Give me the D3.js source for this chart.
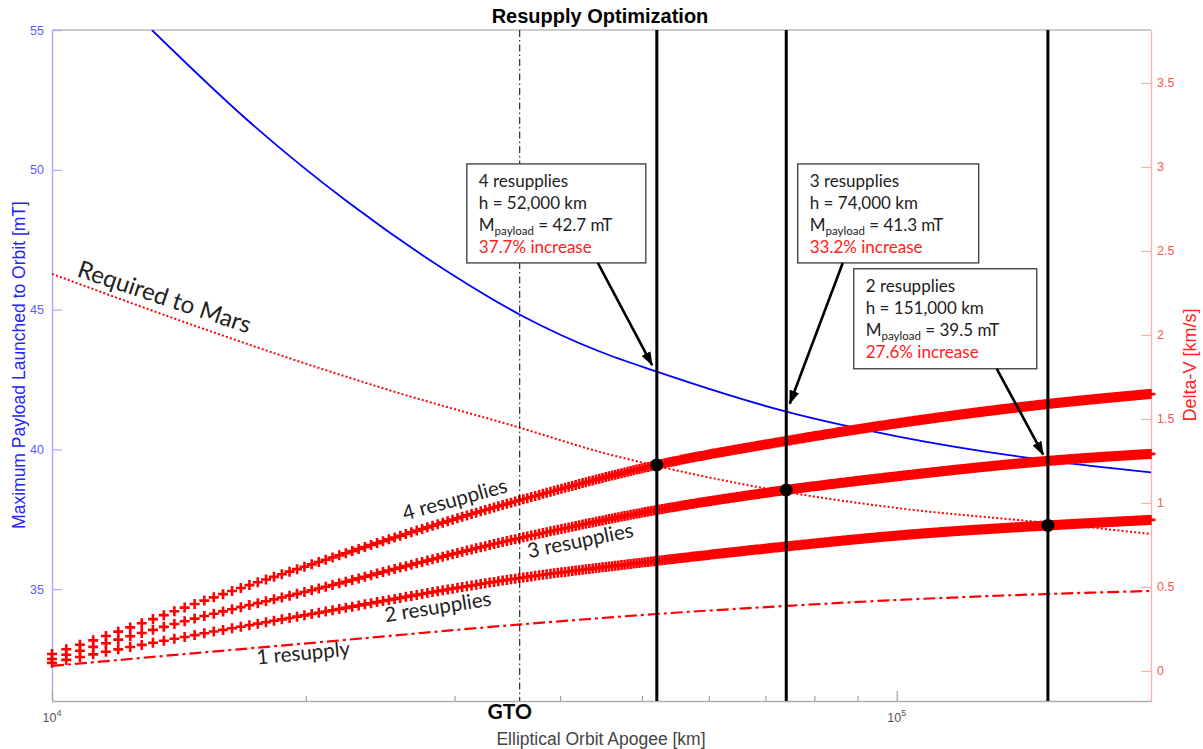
<!DOCTYPE html>
<html><head><meta charset="utf-8">
<script src="https://cdn.jsdelivr.net/npm/d3@7"></script>
<style>body{margin:0;background:#fff}svg{display:block}</style>
</head><body><svg id="c" width="1203" height="749"></svg>
<script>
// ---------- data ----------
const chartTitle = "Resupply Optimization";
const xLabel = "Elliptical Orbit Apogee [km]";
const yLeftLabel = "Maximum Payload Launched to Orbit [mT]";
const yRightLabel = "Delta-V [km/s]";

// Blue: maximum payload launched to orbit (mT) vs apogee (km)
const payloadApogee = [13130, 17150, 22500, 29600, 35900, 44500, 52000, 74000, 100800, 151000, 200000];
const payloadMass   = [55, 51.7, 48.8, 46.3, 44.8, 43.5, 42.78, 41.35, 40.45, 39.6, 39.18];

// Red dotted: delta-V required to Mars (km/s)
const marsApogee = [10000, 15000, 19700, 25700, 35900, 44500, 52000, 74000, 100000, 151000, 200000];
const marsDv     = [2.363, 2.042, 1.839, 1.655, 1.446, 1.304, 1.220, 1.065, 0.970, 0.881, 0.815];

// Delta-V available with n resupplies (km/s)
const resApogee = [10000, 11400, 15000, 19700, 35900, 52000, 74000, 100800, 151000, 200000];
const res4Dv = [0.101, 0.196, 0.411, 0.613, 1.018, 1.226, 1.369, 1.476, 1.589, 1.649];
const res3Dv = [0.071, 0.155, 0.321, 0.464, 0.792, 0.958, 1.077, 1.160, 1.250, 1.292];
const res2Dv = [0.048, 0.107, 0.220, 0.327, 0.554, 0.655, 0.741, 0.807, 0.866, 0.899];
const res1Dv = [0.030, 0.055, 0.109, 0.161, 0.277, 0.339, 0.387, 0.423, 0.458, 0.476];

// Optimal points
const optResupplies = [4, 3, 2];
const optApogee  = [52000, 74000, 151000];
const optPayload = [42.7, 41.3, 39.5];
const optDv      = [1.226, 1.077, 0.866];
const optIncrease = ["37.7%", "33.2%", "27.6%"];

const gtoApogee = 35786;
const leftTicks  = [35, 40, 45, 50, 55];
const rightTicks = [0, 0.5, 1, 1.5, 2, 2.5, 3, 3.5];
const xMajorTicks = [1e4, 1e5];
const xMinorTicks = [2e4, 3e4, 4e4, 5e4, 6e4, 7e4, 8e4, 9e4];
const markerStepKm = 396;

// ---------- layout ----------
const L = 52, R = 1151, T = 30, B = 701;
const x  = d3.scaleLog().domain([1e4, 2e5]).range([L, R]);
const yL = d3.scaleLinear().domain([31, 55]).range([B, T]);
const yR = d3.scaleLinear().domain([-0.179, 3.815]).range([B, T]);

const svg = d3.select("#c");
const defs = svg.append("defs");
defs.append("clipPath").attr("id", "plot").append("rect")
  .attr("x", L).attr("y", T).attr("width", R - L).attr("height", B - T);
defs.append("marker").attr("id", "arr").attr("markerUnits", "userSpaceOnUse")
  .attr("viewBox", "0 0 14 10").attr("refX", 13).attr("refY", 5)
  .attr("markerWidth", 14).attr("markerHeight", 10).attr("orient", "auto")
  .append("path").attr("d", "M0,0 L14,5 L0,10 Z").attr("fill", "#000");

const SANS = "'Liberation Sans', Arial, sans-serif";
const HUM = "Lato, 'Open Sans', sans-serif";

// top border
svg.append("line").attr("x1", L).attr("x2", R).attr("y1", T).attr("y2", T)
  .attr("stroke", "#bdbdbd").attr("stroke-width", 1.3);

// ---------- axes ----------
const gL = svg.append("g").attr("transform", `translate(${L},0)`)
  .call(d3.axisLeft(yL).tickValues(leftTicks).tickSizeInner(-10).tickSizeOuter(0).tickPadding(8));
gL.select(".domain").attr("stroke", "#a8a8ff").attr("stroke-width", 1.4);
gL.selectAll(".tick line").attr("stroke", "#a8a8ff").attr("stroke-width", 1.2);
gL.selectAll(".tick text").attr("fill", "#5b5bff").attr("font-family", SANS).attr("font-size", 12.5);

const gR = svg.append("g").attr("transform", `translate(${R},0)`)
  .call(d3.axisRight(yR).tickValues(rightTicks).tickSizeInner(-10).tickSizeOuter(0).tickPadding(6)
    .tickFormat(d3.format("")));
gR.select(".domain").attr("stroke", "#ffb0b0").attr("stroke-width", 1.4);
gR.selectAll(".tick line").attr("stroke", "#ffb0b0").attr("stroke-width", 1.2);
gR.selectAll(".tick text").attr("fill", "#ff5555").attr("font-family", SANS).attr("font-size", 12.5);

const gB = svg.append("g").attr("transform", `translate(0,${B})`)
  .call(d3.axisBottom(x).tickValues(xMajorTicks).tickSizeInner(-10).tickSizeOuter(0).tickFormat(""));
gB.select(".domain").attr("stroke", "#b0b0b0").attr("stroke-width", 1.4);
gB.selectAll(".tick line").attr("stroke", "#a0a0a0").attr("stroke-width", 1.2);
svg.append("g").selectAll("line").data(xMinorTicks).join("line")
  .attr("x1", d => x(d)).attr("x2", d => x(d)).attr("y1", B).attr("y2", B - 5)
  .attr("stroke", "#a0a0a0").attr("stroke-width", 1.2);
const xt = svg.append("g").selectAll("text").data(xMajorTicks).join("text")
  .attr("x", d => x(d)).attr("y", 722).attr("text-anchor", "middle")
  .attr("font-family", SANS).attr("font-size", 12.5).attr("fill", "#555");
xt.append("tspan").text("10");
xt.append("tspan").attr("dy", -6).attr("font-size", 9).text(d => Math.round(Math.log10(d)));

// axis labels / title
svg.append("text").attr("x", 600).attr("y", 23).attr("text-anchor", "middle")
  .attr("font-family", SANS).attr("font-weight", "bold").attr("font-size", 20).attr("fill", "#000")
  .text(chartTitle);
svg.append("text").attr("x", 601).attr("y", 745).attr("text-anchor", "middle")
  .attr("font-family", SANS).attr("font-size", 17.5).attr("fill", "#444").text(xLabel);
svg.append("text").attr("transform", "translate(25,365) rotate(-90)").attr("text-anchor", "middle")
  .attr("font-family", SANS).attr("font-size", 17.5).attr("fill", "#2424ff").text(yLeftLabel);
svg.append("text").attr("transform", "translate(1196,365) rotate(-90)").attr("text-anchor", "middle")
  .attr("font-family", SANS).attr("font-size", 18).attr("fill", "#ff2222").text(yRightLabel);

// ---------- series ----------
const plot = svg.append("g").attr("clip-path", "url(#plot)");
const lineR = d3.line().x(d => x(d[0])).y(d => yR(d[1])).curve(d3.curveMonotoneX);
const lineL = d3.line().x(d => x(d[0])).y(d => yL(d[1])).curve(d3.curveMonotoneX);

// Required to Mars
plot.append("path").attr("d", lineR(d3.zip(marsApogee, marsDv)))
  .attr("fill", "none").attr("stroke", "#ff0000").attr("stroke-width", 2)
  .attr("stroke-dasharray", "2,2.2");
// 1 resupply
plot.append("path").attr("d", lineR(d3.zip(resApogee, res1Dv)))
  .attr("fill", "none").attr("stroke", "#ff0000").attr("stroke-width", 2.2)
  .attr("stroke-dasharray", "12,4,3,4");

// plus-marker series (markers placed along the drawn curve)
const markerApogees = d3.range(1e4, 2e5 + 1, markerStepKm);
function markerSeries(vals) {
  const tmp = svg.append("path").attr("d", lineR(d3.zip(resApogee, vals))).attr("fill", "none");
  const node = tmp.node(), len = node.getTotalLength();
  const pts = [];
  for (let s = 0; s <= len; s += 0.5) { const p = node.getPointAtLength(s); pts.push([p.x, p.y]); }
  tmp.remove();
  const bis = d3.bisector(p => p[0]).left;
  let d = "";
  for (const a of markerApogees) {
    const px = x(a);
    let i = Math.min(Math.max(bis(pts, px), 1), pts.length - 1);
    const p0 = pts[i - 1], p1 = pts[i];
    const t = p1[0] === p0[0] ? 0 : (px - p0[0]) / (p1[0] - p0[0]);
    const py = p0[1] + t * (p1[1] - p0[1]);
    d += `M${px - 5},${py}h10M${px},${py - 5}v10`;
  }
  svg.append("path").attr("d", d).attr("fill", "none").attr("stroke", "#ff0000").attr("stroke-width", 2.6);
}
[res4Dv, res3Dv, res2Dv].forEach(markerSeries);

// blue payload curve
plot.append("path").attr("d", lineL(d3.zip(payloadApogee, payloadMass)))
  .attr("fill", "none").attr("stroke", "#0000ff").attr("stroke-width", 1.8);

// GTO line
svg.append("line").attr("x1", x(gtoApogee)).attr("x2", x(gtoApogee)).attr("y1", T).attr("y2", B)
  .attr("stroke", "#000").attr("stroke-width", 1).attr("stroke-dasharray", "7,3,1.5,3");
svg.append("text").attr("x", x(gtoApogee) - 10).attr("y", 719).attr("text-anchor", "middle")
  .attr("font-family", HUM).attr("font-weight", "bold").attr("font-size", 21).attr("fill", "#000").text("GTO");

// vertical optimum lines and dots
svg.append("g").selectAll("line").data(optApogee).join("line")
  .attr("x1", d => x(d)).attr("x2", d => x(d)).attr("y1", T).attr("y2", B)
  .attr("stroke", "#000").attr("stroke-width", 3);
svg.append("g").selectAll("circle").data(optApogee).join("circle")
  .attr("cx", d => x(d)).attr("cy", (d, i) => yR(optDv[i])).attr("r", 6.5).attr("fill", "#000");

// ---------- annotation boxes ----------
const boxes = [
  { i: 0, bx: x(30980), by: yL(50.21), w: 179, h: 99, tail: 131 },
  { i: 1, bx: x(76350), by: yL(50.21), w: 181, h: 99, tail: 45 },
  { i: 2, bx: x(88950), by: yL(46.46), w: 183, h: 100, tail: 143 }
];
boxes.forEach(b => {
  const g = svg.append("g");
  g.append("rect").attr("x", b.bx).attr("y", b.by).attr("width", b.w).attr("height", b.h)
    .attr("fill", "#fff").attr("stroke", "#3a3a3a").attr("stroke-width", 1.3);
  const tx = b.bx + 12, fs = 17;
  const mk = (dy) => g.append("text").attr("x", tx).attr("y", b.by + dy)
    .attr("font-family", HUM).attr("font-size", fs).attr("fill", "#222");
  mk(23).text(`${optResupplies[b.i]} resupplies`);
  mk(45).text(`h = ${d3.format(",")(optApogee[b.i])} km`);
  const m = mk(67);
  m.append("tspan").text("M");
  m.append("tspan").attr("dy", 4).attr("font-size", 11.5).text("payload");
  m.append("tspan").attr("dy", -4).text(` = ${optPayload[b.i]} mT`);
  mk(89).attr("fill", "#ff2020").text(`${optIncrease[b.i]} increase`);
  // arrow to the payload point
  const x0 = b.bx + b.tail, y0 = b.by + b.h;
  const x1 = x(optApogee[b.i]), y1 = yL(optPayload[b.i]);
  const dx = x1 - x0, dy = y1 - y0, len = Math.hypot(dx, dy), k = (len - 10) / len;
  svg.append("line").attr("x1", x0).attr("y1", y0).attr("x2", x0 + dx * k).attr("y2", y0 + dy * k)
    .attr("stroke", "#000").attr("stroke-width", 2.6).attr("marker-end", "url(#arr)");
});

// ---------- curve labels ----------
const labels = [
  { t: "Required to Mars", a: marsApogee[0], v: 2.35, ang: 18.5, fs: 24, anchor: "start", dx: 24 },
  { t: "4 resupplies", a: 30140, v: 0.98, ang: -15.5, fs: 20.5, anchor: "middle", dx: 0 },
  { t: "3 resupplies", a: 42370, v: 0.735, ang: -11.5, fs: 20.5, anchor: "middle", dx: 0 },
  { t: "2 resupplies", a: 28710, v: 0.34, ang: -9, fs: 20.5, anchor: "middle", dx: 0 },
  { t: "1 resupply", a: 19870, v: 0.065, ang: -5.4, fs: 20.5, anchor: "middle", dx: 0 }
];
labels.forEach(l => {
  svg.append("text").attr("transform", `translate(${x(l.a) + l.dx},${yR(l.v)}) rotate(${l.ang})`)
    .attr("text-anchor", l.anchor).attr("font-family", HUM).attr("font-size", l.fs)
    .attr("fill", "#222").text(l.t);
});
</script></body></html>
